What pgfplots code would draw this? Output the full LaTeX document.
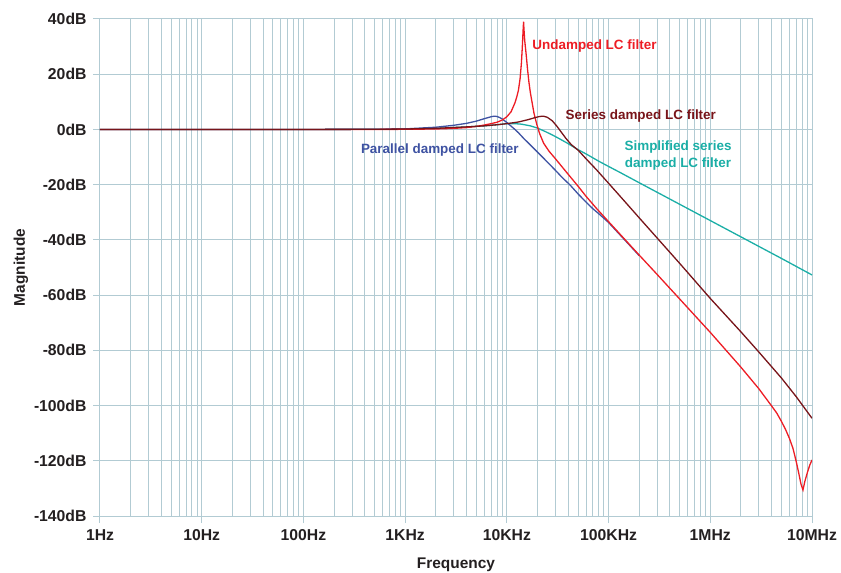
\documentclass[border=0pt]{standalone}
\usepackage{fontspec}
\setmainfont{Liberation Sans}
\usepackage{pgfplots}
\pgfplotsset{compat=1.18}
\definecolor{gridc}{RGB}{178,203,211}
\definecolor{labc}{RGB}{35,31,32}
\definecolor{redc}{RGB}{237,28,36}
\definecolor{maroonc}{RGB}{120,20,25}
\definecolor{tealc}{RGB}{26,174,166}
\definecolor{bluec}{RGB}{62,82,162}
\begin{document}
\begin{tikzpicture}
\begin{axis}[
  at={(0,0)}, anchor=south west,
  width=712bp, height=497bp, scale only axis,
  xmode=log, log basis x=10,
  xmin=1, xmax=1e7, ymin=-140, ymax=40,
  xtick={1,10,100,1000,10000,100000,1000000,10000000},
  xticklabels={1Hz,10Hz,100Hz,1KHz,10KHz,100KHz,1MHz,10MHz},
  minor xtick={2,3,4,5,6,7,8,9,20,30,40,50,60,70,80,90,200,300,400,500,600,700,800,900,
    2000,3000,4000,5000,6000,7000,8000,9000,20000,30000,40000,50000,60000,70000,80000,90000,
    200000,300000,400000,500000,600000,700000,800000,900000,
    2000000,3000000,4000000,5000000,6000000,7000000,8000000,9000000},
  ytick={-140,-120,-100,-80,-60,-40,-20,0,20,40},
  yticklabels={-140dB,-120dB,-100dB,-80dB,-60dB,-40dB,-20dB,0dB,20dB,40dB},
  xmajorgrids, xminorgrids, ymajorgrids,
  major grid style={gridc, line width=1bp},
  minor grid style={gridc, line width=0.9bp},
  axis line style={gridc, line width=1bp},
  tick style={gridc, line width=1bp},
  major tick length=7bp, minor tick length=0pt,
  tick align=outside, xtick pos=bottom, ytick pos=left,
  ticklabel style={font=\bfseries\fontsize{15.8}{15.8}\selectfont, text=labc},
  xticklabel style={yshift=-3bp},
  yticklabel style={xshift=-3bp},
  xlabel={Frequency}, ylabel={Magnitude},
  xlabel style={at={(axis description cs:0.5,-0.0986)}, anchor=center, font=\bfseries\fontsize{15.5}{15.5}\selectfont, text=labc},
  ylabel style={at={(axis description cs:-0.1110,0.5)}, anchor=center, rotate=0, font=\bfseries\fontsize{15.5}{15.5}\selectfont, text=labc},
]
% Simplified series damped (teal)
\addplot[tealc, line width=1.3bp] coordinates {
(1,0)(100,0)(500,0.05)(1000,0.15)(2000,0.4)(3000,0.7)(4400,1.0)(6000,1.3)(8000,1.7)(10000,2.1)
(12000,2.1)(14000,1.9)(17000,1.3)(20000,0.5)(24000,-0.8)(28000,-2.0)(33000,-3.4)(39000,-4.9)
(50000,-7.3)(61000,-9.0)(80000,-11.5)(100000,-13.4)(130000,-15.6)(200000,-19.3)(500000,-27.1)
(1000000,-33.0)(2000000,-38.9)(5000000,-46.7)(10000000,-52.7)};
% Parallel damped (blue)
\addplot[bluec, line width=1.3bp] coordinates {
(1,0)(100,0)(500,0.05)(1000,0.2)(2000,0.8)(3000,1.5)(4000,2.2)(5000,3.0)(6000,3.9)(7000,4.6)
(7500,4.8)(8000,4.7)(8500,4.3)(9000,3.8)(10000,2.5)(11000,1.2)(12000,0.0)(13000,-1.2)(14600,-3.2)
(17000,-5.6)(20000,-8.2)(25000,-11.8)(30000,-14.8)(35000,-17.4)(42000,-20.2)(50000,-23.3)
(60000,-26.3)(70000,-28.7)(80000,-30.5)(100000,-33.7)(150000,-40.7)(200000,-45.7)};
% Undamped (red)
\addplot[redc, line width=1.3bp] coordinates {
(1,0)(100,0)(500,0.01)(1000,0.04)(2000,0.17)(3000,0.38)(4000,0.68)(5000,1.1)(6000,1.6)(7000,2.1)
(8000,2.6)(9000,3.4)(10000,4.6)(11000,6.4)(12000,9.6)(12500,11.7)(13000,14.2)(13500,18.5)
(13900,24)(14200,30)(14450,36)(14600,39)(14750,36)(15000,32)(15500,27)(16000,21.5)(16500,17)
(17000,13.5)(17600,10.3)(18500,5.8)(19700,1.8)(21000,-1.5)(23000,-5.0)(26000,-7.9)(30000,-10.6)
(35000,-13.6)(40000,-16.2)(50000,-20.5)(60000,-24.2)(76500,-28.7)(100000,-33.4)(150000,-40.5)
(200000,-45.5)(300000,-52.5)(500000,-61.4)(1000000,-73.5)(2000000,-86.1)(3000000,-93.9)
(4000000,-100.1)(4500000,-102.7)(5000000,-105.7)(5500000,-108.7)(6000000,-111.9)
(6500000,-115.5)(7000000,-120.3)(7400000,-124.4)(7800000,-128.5)(8150000,-130.6)(8500000,-127.5)
(9000000,-124.3)(9500000,-121.6)(10000000,-119.7)};
% Series damped (maroon)
\addplot[maroonc, line width=1.3bp] coordinates {
(1,0)(100,0)(500,0.05)(1000,0.15)(2000,0.4)(3000,0.7)(4400,1.0)(6000,1.3)(8000,1.7)(10000,2.1)
(13000,2.7)(16000,3.5)(19000,4.3)(21000,4.7)(22900,4.8)(25000,4.4)(28000,3.1)(31000,1.2)
(34000,-0.8)(38000,-3.2)(43000,-5.5)(50500,-7.6)(60000,-10.6)(76500,-14.7)(100000,-19.5)
(125000,-23.5)(200000,-32)(500000,-48.5)(1000000,-61.2)(2000000,-73.3)(3000000,-80.6)
(5000000,-90)(7000000,-96.8)(10000000,-104.6)};
\node[anchor=west, text=redc, font=\bfseries\fontsize{13.5}{13.5}\selectfont] at (axis cs:16500,30.2) {Undamped LC filter};
\node[anchor=west, text=maroonc, font=\bfseries\fontsize{13.5}{13.5}\selectfont] at (axis cs:35000,4.7) {Series damped LC filter};
\node[align=center, text=tealc, font=\bfseries\fontsize{13.5}{16.6}\selectfont] at (axis cs:481950,-9.4) {Simplified series\\damped LC filter};
\node[anchor=west, text=bluec, font=\bfseries\fontsize{13.5}{13.5}\selectfont] at (axis cs:340,-7.3) {Parallel damped LC filter};
\end{axis}
\pgfresetboundingbox
\useasboundingbox (-100bp,-57bp) rectangle (741bp,516bp);
\end{tikzpicture}
\end{document}
